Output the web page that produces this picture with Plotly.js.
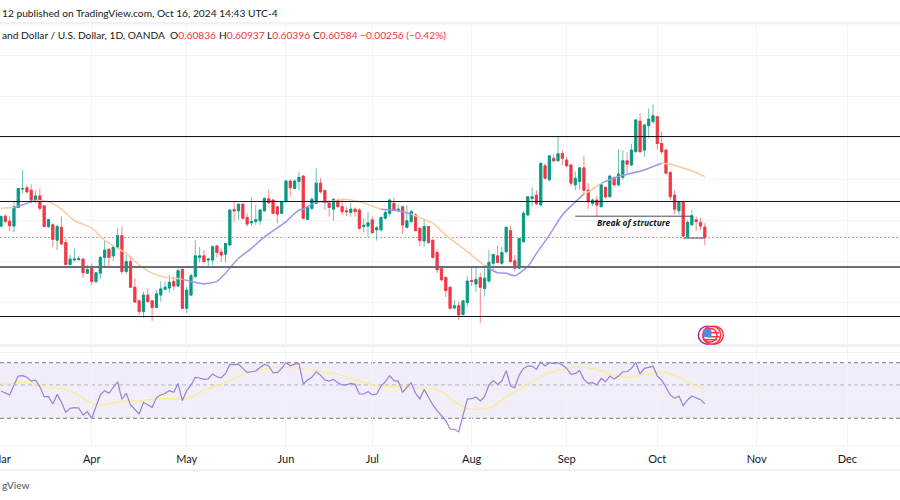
<!DOCTYPE html>
<html>
<head>
<meta charset="utf-8">
<script src="https://cdn.plot.ly/plotly-3.0.1.min.js"></script>
<style>html,body{margin:0;padding:0;background:#fff}#chart{width:900px;height:500px}</style>
</head>
<body>
<div id="chart"></div>
<script>
// Daily NZD/USD bars, Mar 1 2024 onward (bar number = position in the series)
const opens = [
.6086,.6110,.6098,.6086,.6131,.6176,.6179,.6173,.6149,.6159,
.6135,.6085,.6089,.6052,.6083,.6046,.5993,.6004,.6005,.6006,
.5972,.5984,.5952,.5972,.6010,.6030,.6014,.6035,.6063,.5976,
.6000,.5938,.5905,.5879,.5919,.5905,.5889,.5919,.5933,.5936,
.5952,.5941,.5981,.5887,.5919,.5964,.6010,.6014,.6004,.6004,
.6038,.6023,.6018,.6040,.6126,.6123,.6139,.6107,.6094,.6097,
.6099,.6123,.6152,.6149,.6133,.6117,.6145,.6195,.6177,.6194,
.6207,.6102,.6129,.6141,.6190,.6172,.6145,.6127,.6148,.6133,
.6123,.6119,.6127,.6125,.6085,.6086,.6101,.6077,.6077,.6105,
.6117,.6141,.6124,.6133,.6083,.6097,.6113,.6081,.6050,.6085,
.6052,.6022,.5983,.5962,.5938,.5888,.5893,.5872,.5901,.5954,
.5946,.5961,.5935,.5953,.5996,.6014,.5996,.6024,.6075,.6002,
.5984,.6048,.6113,.6153,.6161,.6137,.6232,.6198,.6250,.6244,
.6262,.6246,.6234,.6186,.6194,.6227,.6173,.6141,.6149,.6133,
.6180,.6157,.6203,.6186,.6204,.6244,.6234,.6266,.6340,.6270,
.6329,.6339,.6351,.6286,.6270,.6216,.6161,.6123,.6144,.6060,
.6089,.6101,.6095,.60836];
const highs = [
.6113,.6115,.6109,.6145,.6177,.6222,.6186,.6187,.6172,.6177,
.6136,.6103,.6093,.6089,.6109,.6056,.6016,.6032,.6014,.6008,
.5992,.5996,.5974,.6014,.6051,.6031,.6040,.6081,.6085,.6016,
.6014,.5960,.5907,.5927,.5935,.5907,.5931,.5952,.5952,.5968,
.5964,.5984,.5984,.5939,.5972,.6052,.6035,.6028,.6008,.6039,
.6040,.6032,.6044,.6127,.6144,.6141,.6141,.6117,.6156,.6137,
.6127,.6155,.6175,.6151,.6134,.6145,.6198,.6199,.6199,.6218,
.6210,.6133,.6156,.6226,.6202,.6175,.6149,.6152,.6153,.6151,
.6133,.6143,.6131,.6129,.6105,.6121,.6109,.6086,.6109,.6125,
.6153,.6156,.6139,.6135,.6137,.6125,.6117,.6081,.6101,.6086,
.6053,.6030,.5984,.5962,.5939,.5907,.5903,.5907,.5965,.5988,
.5988,.5973,.5986,.6028,.6017,.6038,.6036,.6085,.6086,.6016,
.6058,.6121,.6159,.6180,.6173,.6240,.6238,.6258,.6260,.6304,
.6270,.6254,.6236,.6218,.6229,.6256,.6190,.6153,.6159,.6187,
.6182,.6210,.6206,.6272,.6270,.6265,.6285,.6345,.6359,.6332,
.6371,.6381,.6352,.6315,.6272,.6219,.6173,.6145,.6145,.6101,
.6125,.6109,.6106,.60937];
const lows = [
.6083,.6094,.6074,.6071,.6130,.6165,.6165,.6141,.6141,.6123,
.6083,.6081,.6035,.6028,.6040,.5992,.5986,.6000,.6002,.5960,
.5970,.5943,.5947,.5957,.5988,.5986,.6002,.6032,.5969,.5970,
.5937,.5901,.5871,.5863,.5901,.5856,.5887,.5903,.5931,.5925,
.5931,.5939,.5885,.5876,.5917,.5960,.5998,.5998,.5984,.5992,
.6010,.6000,.5998,.6040,.6097,.6101,.6101,.6085,.6086,.6089,
.6089,.6121,.6141,.6115,.6093,.6115,.6145,.6157,.6175,.6173,
.6102,.6102,.6125,.6140,.6165,.6125,.6109,.6099,.6131,.6113,
.6110,.6109,.6109,.6077,.6070,.6059,.6069,.6051,.6073,.6102,
.6109,.6121,.6118,.6067,.6081,.6093,.6074,.6038,.6036,.6044,
.6008,.5972,.5952,.5915,.5885,.5885,.5859,.5869,.5891,.5941,
.5927,.5852,.5915,.5949,.5980,.5996,.5992,.6020,.5998,.5977,
.5982,.6047,.6111,.6133,.6137,.6137,.6200,.6196,.6241,.6244,
.6234,.6230,.6182,.6173,.6175,.6161,.6127,.6135,.6109,.6131,
.6153,.6156,.6182,.6182,.6198,.6214,.6232,.6265,.6264,.6254,
.6299,.6335,.6270,.6260,.6212,.6149,.6115,.6113,.6060,.6058,
.6089,.6074,.6077,.60396];
const closes = [
.6109,.6097,.6087,.6133,.6177,.6177,.6169,.6149,.6159,.6129,
.6085,.6102,.6054,.6085,.6043,.5993,.6006,.6006,.6007,.5973,
.5981,.5952,.5973,.6010,.6028,.6010,.6035,.6063,.5976,.6000,
.5938,.5902,.5879,.5919,.5903,.5889,.5922,.5934,.5938,.5950,
.5941,.5978,.5887,.5931,.5966,.6014,.6014,.6000,.6006,.6036,
.6022,.6016,.6044,.6125,.6123,.6139,.6105,.6091,.6097,.6102,
.6125,.6153,.6142,.6117,.6115,.6144,.6195,.6179,.6195,.6204,
.6105,.6131,.6151,.6190,.6169,.6143,.6131,.6151,.6133,.6121,
.6121,.6127,.6121,.6081,.6088,.6094,.6070,.6082,.6107,.6119,
.6149,.6125,.6127,.6089,.6099,.6121,.6075,.6051,.6085,.6046,
.6010,.5980,.5956,.5930,.5887,.5893,.5871,.5905,.5953,.5952,
.5957,.5938,.5960,.5998,.6017,.5998,.6022,.6083,.6000,.5984,
.6056,.6117,.6157,.6157,.6140,.6238,.6202,.6256,.6244,.6261,
.6250,.6232,.6190,.6202,.6227,.6173,.6145,.6149,.6137,.6186,
.6157,.6207,.6186,.6212,.6244,.6236,.6270,.6343,.6266,.6331,
.6345,.6353,.6286,.6266,.6214,.6157,.6127,.6144,.6062,.6095,
.6111,.6097,.6086,.60584];

// Moving average read at selected bars; maRising tells which colour leads to the next point
const maBars = [0,3,6,8,11,14,17,21,24,26,29,32,35,38,41,42,44,47,50,52,55,58,61,66,69,70,73,76,79,83,88,92,95,98,100,103,108,112,115,117,119,122,124,127,130,135,136,139,143,149,153,155,157,160,163];
const maVals = [.6129,.6131,.6141,.6148,.6145,.6127,.6099,.6081,.6052,.6038,.6020,.5992,.5972,.5962,.5959,.5957,.5952,.5946,.5952,.5972,.6008,.6032,.6060,.6097,.6125,.6127,.6144,.6144,.6151,.6145,.6127,.6123,.6115,.6102,.6093,.6064,.6024,.5990,.5973,.5972,.5966,.5988,.6020,.6064,.6113,.6164,.6169,.6190,.6206,.6222,.6238,.6236,.6230,.6220,.6206];
const maRising = [0,1,1,0,0,0,0,0,0,0,0,0,0,0,0,1,1,1,1,1,1,1,1,1,1,1,1,0,0,0,1,1,0,0,0,0,0,1,1,1,1,1,1,1,1,0,0,1,1,1,0,0,0,0,0];

// RSI per bar and its moving average
const rsi = [
49.6,48,46.8,54,60.4,60.7,59.5,56.8,57.5,52.8,
45.6,45.6,40.3,47.2,41.5,34.3,37.2,37.7,37.4,32.4,
34.8,30,37.9,46.8,49.9,48,52.3,56.3,43.7,48,
39.6,36,33.1,41.5,39.6,37.9,44.9,46.8,48,49.9,
48.7,55.1,42.7,49.9,54,59.5,59,58,58.3,61.9,
59.9,59.2,62.3,68.6,68.6,69,65.9,63.1,63.5,64,
66.6,68.8,67.6,62.8,62.8,65.9,70,67.8,69,69.5,
54.7,57.5,59.5,63.5,61.1,57.5,56.8,58,55.6,54,
54,55.1,54.4,47.5,47.5,49.2,46.8,47.5,53.2,56.3,
60.7,57.1,56.8,48.7,52.3,55.6,48,43.9,50.8,45.6,
39.6,35.5,31.9,28.3,22.3,22.1,20.2,31.2,43.9,44.1,
45.3,42.5,45.6,54,57.1,54.4,56.8,64.3,53.2,52,
61.1,65.9,67.6,67.6,65.2,70.5,67.6,70,69.3,70,
68.3,65.9,61.6,62.3,64.3,58,55.1,55.6,54,58.7,
56.3,60.4,58.3,60.4,63.5,63.5,65.9,70.2,61.9,65.9,
66.9,67.4,60.4,57.5,52.3,46.8,44.4,46,39.1,43.2,
46,44.6,43.4,40.5];
const rsiMaBars = [0,3,5,7,9,11,14,16,19,21,23,25,27,30,32,36,39,43,45,47,51,54,57,59,62,65,69,73,75,78,82,85,88,92,96,100,102,105,108,111,114,117,120,123,127,131,134,136,139,142,145,148,152,154,157,160,163];
const rsiMaVals = [54.7,55.1,55.9,55.1,54,52,51.6,49.9,44.4,40.8,39.3,40.3,41.7,42.7,42.5,44.1,44.1,43.9,46.8,50.4,54.4,58.7,62.8,64,65.9,66.6,66.2,64.3,63.1,61.9,57.5,55.1,53,53.2,52,51.3,49.2,42,37.2,36.5,38.4,45.6,50.8,56.3,62.8,65.9,66.9,66.2,64.3,61.1,59.5,60.7,63.1,63.1,59.5,54.7,50.8];

// Levels and drawn objects
const priceLevels = [.63029,.61456,.5987,.58671];
const lastPrice = 0.60584;
const rsiBand = [70,30];
const rsiMid = 54;
const breakLine = {from:133, to:160, price:.6110};
const lowLine = {from:158, to:163, price:.6057};
const monthBars = [0,21,43,66,86,109,131,152,175,196];
const monthLabels = ['Mar','Apr','May','Jun','Jul','Aug','Sep','Oct','Nov','Dec'];
const priceGrid = [.58,.59,.60,.61,.62,.63,.64,.65];
const rsiGrid = [44,77];

const UP = '#089981', DOWN = '#F23645';
const bars = opens.map((_, i) => i);
const traces = [];
// wicks, lighter
traces.push({type:'candlestick', x:bars, open:opens, high:highs, low:lows, close:closes,
  whiskerwidth:0, hoverinfo:'skip', showlegend:false,
  increasing:{line:{color:'rgba(8,153,129,0.6)',width:1}, fillcolor:'rgba(0,0,0,0)'},
  decreasing:{line:{color:'rgba(242,54,69,0.6)',width:1}, fillcolor:'rgba(0,0,0,0)'}});
// bodies, solid
traces.push({type:'candlestick', x:bars, open:opens, close:closes,
  high:opens.map((o,i)=>Math.max(o,closes[i])), low:opens.map((o,i)=>Math.min(o,closes[i])),
  whiskerwidth:0, hoverinfo:'skip', showlegend:false,
  increasing:{line:{color:UP,width:0.8}, fillcolor:UP},
  decreasing:{line:{color:DOWN,width:0.8}, fillcolor:DOWN}});
// MA, split by colour
for (let k = 0; k < maBars.length - 1; ) {
  let e = k + 1;
  while (e < maBars.length - 1 && maRising[e] === maRising[k]) e++;
  traces.push({type:'scatter', mode:'lines', x:maBars.slice(k, e + 1), y:maVals.slice(k, e + 1),
    line:{color: maRising[k] ? '#9b97f0' : '#fbcb9c', width:1.5, shape:'spline', smoothing:0.6},
    hoverinfo:'skip', showlegend:false});
  k = e;
}
// RSI
traces.push({type:'scatter', mode:'lines', x:rsiMaBars, y:rsiMaVals, yaxis:'y2',
  line:{color:'#fdec8a', width:1.2, shape:'spline', smoothing:0.6}, hoverinfo:'skip', showlegend:false});
traces.push({type:'scatter', mode:'lines', x:bars, y:rsi, yaxis:'y2',
  line:{color:'#9b7fd4', width:1.2}, hoverinfo:'skip', showlegend:false});

// Economic-event badge
const eventPrice = 0.5822;
const marker = (x, y, symbol, size, color, lineColor, lineWidth) =>
  traces.push({type:'scatter', mode:'markers', x:[x], y:[y], hoverinfo:'skip', showlegend:false,
    marker:{symbol, size, color, line:{color:lineColor, width:lineWidth}}});
marker(163.6, eventPrice, 'circle', 18, '#ffffff', '#9C27B0', 1.5);
marker(165.2, eventPrice, 'circle', 18, '#ffffff', '#F23645', 1.5);
marker(164.6, eventPrice, 'circle', 18, '#ffffff', '#F23645', 1.5);
marker(164.2, eventPrice, 'circle', 14, '#ffffff', '#F23645', 1.5);
marker(165, eventPrice + 0.0006, 'line-ew', 8, '#F23645', '#F23645', 1.5);
marker(165, eventPrice - 0.0004, 'line-ew', 9, '#F23645', '#F23645', 1.5);
marker(164.2, eventPrice - 0.0011, 'line-ew', 10, '#F23645', '#F23645', 1.5);
marker(163.6, eventPrice + 0.0005, 'square', 8, '#4a90e2', '#4a90e2', 0);

const shapes = [];
const hline = (yref, y, color, width, dash) => shapes.push({type:'line', xref:'paper', x0:0, x1:1, yref, y0:y, y1:y,
  line:{color, width, dash: dash || 'solid'}, layer:'below'});
// chrome strips
const strip = (y0, y1) => shapes.push({type:'rect', xref:'paper', yref:'paper', x0:0, x1:1, y0, y1, fillcolor:'#eff1f6', line:{width:0}, layer:'below'});
strip(1 - 24.5/500, 1 - 22/500);
strip(1 - 347/500, 1 - 345/500);
strip(1 - 471/500, 1 - 469/500);
// RSI band and levels
shapes.push({type:'rect', xref:'paper', x0:0, x1:1, yref:'y2', y0:rsiBand[1], y1:rsiBand[0], fillcolor:'rgba(126,87,194,0.1)', line:{width:0}, layer:'below'});
rsiBand.forEach(v => hline('y2', v, '#787b86', 1, '4px,3px'));
hline('y2', rsiMid, 'rgba(120,123,134,0.5)', 1, '4px,3px');
hline('paper', 1 - 446/500, '#f0f3fa', 1);
// price levels
priceLevels.forEach((v, i) => shapes.push({type:'line', xref:'paper', x0:0, x1:1, yref:'y', y0:v, y1:v,
  line: i === 2 ? {color:'#6b6e78', width:2} : {color:'#131722', width:1}, layer:'above'}));
shapes.push({type:'line', xref:'paper', x0:0, x1:1, yref:'y', y0:lastPrice, y1:lastPrice, line:{color:'#f58a93', width:1, dash:'2px,2px'}, layer:'below'});
[breakLine, lowLine].forEach(s => shapes.push({type:'line', xref:'x', x0:s.from, x1:s.to, yref:'y', y0:s.price, y1:s.price, line:{color:'#4a4e58', width:1}, layer:'above'}));

const FONT = '"Lato", sans-serif';
const textFont = {family:FONT, size:10.2, color:'#131722'};
const redSpan = t => `<span style="color:#F23645">${t}</span>`;
const head = (x, y, text) => ({xref:'paper', yref:'paper', x:x/900, y:1 - y/500, xanchor:'left', yanchor:'middle', text, showarrow:false, font:textFont, align:'left'});
const annotations = [
  head(0, 13, '12 published on TradingView.com, Oct 16, 2024 14:43 UTC-4'),
  head(0, 35, 'and Dollar / U.S. Dollar, 1D, OANDA'),
  head(168, 35, 'O' + redSpan('0.60836')),
  head(217, 35, 'H' + redSpan('0.60937')),
  head(265, 35, 'L' + redSpan('0.60396')),
  head(311, 35, 'C' + redSpan('0.60584')),
  head(358, 35, redSpan('−0.00256 (−0.42%)')),
  Object.assign(head(0, 485, 'gView'), {font:{family:FONT, size:10.2, color:'#50535e'}}),
  {xref:'x', yref:'y', x:146.5, y:breakLine.price - 0.0015, text:'<b><i>Break of structure</i></b>', showarrow:false, xanchor:'center', yanchor:'middle',
    font:{family:'"Noto Sans", sans-serif', size:8.5, color:'#131722'}}
];

const layout = {
  width:900, height:500, margin:{l:0, r:0, t:0, b:0},
  paper_bgcolor:'#ffffff', plot_bgcolor:'#ffffff', showlegend:false,
  boxmode:'overlay', boxgap:0.3,
  xaxis:{type:'linear', anchor:'y2', domain:[0,1], range:[-0.2316, 208.2], rangeslider:{visible:false},
    tickmode:'array', tickvals:monthBars, ticktext:monthLabels, ticks:'', ticklabelstandoff:5, ticklabeloverflow:'allow',
    tickfont:{family:FONT, size:11, color:'#131722'}, showgrid:true, gridcolor:'#f0f3fa', gridwidth:1, zeroline:false, showline:false},
  yaxis:{domain:[1 - 346/500, 1 - 25/500], range:[.57957, .65729], tickmode:'array', tickvals:priceGrid,
    showticklabels:false, ticks:'', showgrid:true, gridcolor:'#f0f3fa', zeroline:false, showline:false},
  yaxis2:{domain:[1 - 446/500, 1 - 347/500], range:[10.07, 81.3], tickmode:'array', tickvals:rsiGrid,
    showticklabels:false, ticks:'', showgrid:true, gridcolor:'#f0f3fa', zeroline:false, showline:false},
  shapes, annotations
};
Plotly.newPlot('chart', traces, layout, {staticPlot:true, displayModeBar:false});
</script>
</body>
</html>
